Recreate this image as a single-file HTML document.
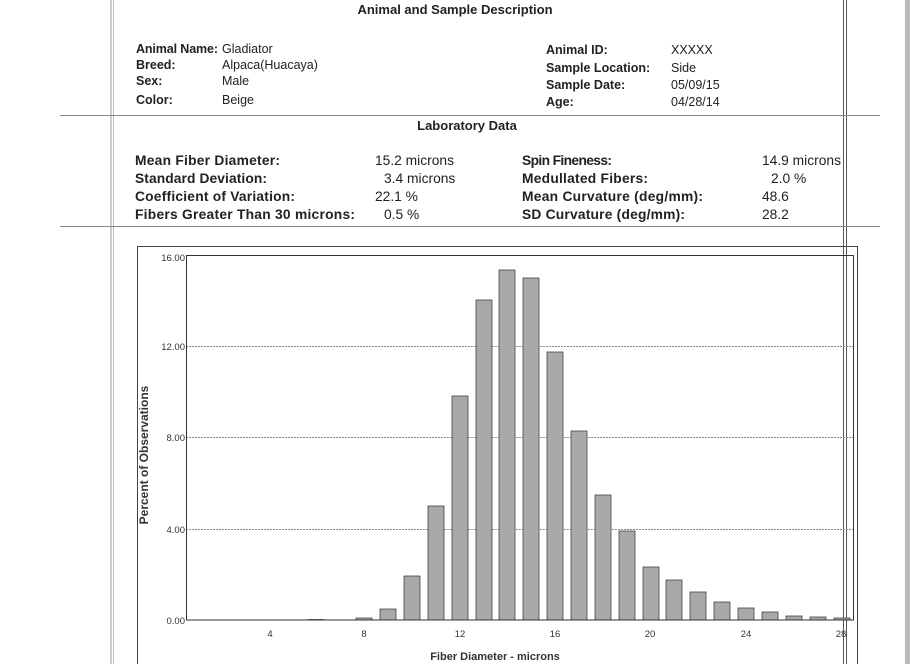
<!DOCTYPE html>
<html><head><meta charset="utf-8"><style>
html,body{margin:0;padding:0;background:#fff;}
svg{display:block;font-family:"Liberation Sans",Arial,sans-serif;}
.b{font-weight:bold;font-size:12.5px;fill:#222;}
.n{font-size:12.5px;fill:#222;}
.lb{font-weight:bold;font-size:13.8px;fill:#222;}
.ln{font-size:13.8px;fill:#222;}
.t{font-size:9.5px;fill:#333;}
</style></head><body>
<svg width="910" height="664" viewBox="0 0 910 664" xmlns="http://www.w3.org/2000/svg">
<rect width="910" height="664" fill="#fff"/>
<rect x="905" y="0" width="5" height="664" fill="#bbb"/>
<line x1="111" y1="0" x2="111" y2="664" stroke="#999" stroke-width="1"/>
<line x1="113.5" y1="0" x2="113.5" y2="664" stroke="#bbb" stroke-width="1"/>
<line x1="843.5" y1="0" x2="843.5" y2="664" stroke="#555" stroke-width="1"/>
<line x1="846.5" y1="0" x2="846.5" y2="664" stroke="#555" stroke-width="1"/>
<line x1="60" y1="115.5" x2="880" y2="115.5" stroke="#888" stroke-width="1"/>
<line x1="60" y1="226.5" x2="880" y2="226.5" stroke="#888" stroke-width="1"/>
<text x="455" y="14" text-anchor="middle" class="b" style="font-size:13px">Animal and Sample Description</text>
<text x="136" y="53" class="b" textLength="82">Animal Name:</text><text x="222" y="53" class="n">Gladiator</text>
<text x="136" y="69" class="b">Breed:</text><text x="222" y="69" class="n">Alpaca(Huacaya)</text>
<text x="136" y="85" class="b">Sex:</text><text x="222" y="85" class="n">Male</text>
<text x="136" y="104" class="b">Color:</text><text x="222" y="104" class="n">Beige</text>
<text x="546" y="54" class="b">Animal ID:</text><text x="671" y="54" class="n">XXXXX</text>
<text x="546" y="72" class="b">Sample Location:</text><text x="671" y="72" class="n">Side</text>
<text x="546" y="89" class="b">Sample Date:</text><text x="671" y="89" class="n">05/09/15</text>
<text x="546" y="106" class="b">Age:</text><text x="671" y="106" class="n">04/28/14</text>
<text x="467" y="130" text-anchor="middle" class="b" style="font-size:13px">Laboratory Data</text>
<text x="135" y="165" class="lb" textLength="145">Mean Fiber Diameter:</text><text x="375" y="165" class="ln">15.2 microns</text>
<text x="135" y="183" class="lb" textLength="132">Standard Deviation:</text><text x="384" y="183" class="ln">3.4 microns</text>
<text x="135" y="201" class="lb" textLength="160">Coefficient of Variation:</text><text x="375" y="201" class="ln">22.1 %</text>
<text x="135" y="219" class="lb" textLength="220">Fibers Greater Than 30 microns:</text><text x="384" y="219" class="ln">0.5 %</text>
<text x="522" y="165" class="lb" textLength="90">Spin Fineness:</text><text x="762" y="165" class="ln">14.9 microns</text>
<text x="522" y="183" class="lb" textLength="126">Medullated Fibers:</text><text x="771" y="183" class="ln">2.0 %</text>
<text x="522" y="201" class="lb" textLength="181">Mean Curvature (deg/mm):</text><text x="762" y="201" class="ln">48.6</text>
<text x="522" y="219" class="lb" textLength="163">SD Curvature (deg/mm):</text><text x="762" y="219" class="ln">28.2</text>
<rect x="137.5" y="246.5" width="720" height="430" fill="none" stroke="#444" stroke-width="1"/>
<g stroke="#888" stroke-width="1" stroke-dasharray="2,1">
<line x1="186" y1="346.5" x2="853" y2="346.5"/>
<line x1="186" y1="437.5" x2="853" y2="437.5"/>
<line x1="186" y1="529.5" x2="853" y2="529.5"/>
</g>
<g fill="#a9a9a9" stroke="#444" stroke-width="0.8">
<rect x="308" y="619.5" width="16" height="0.5"/>
<rect x="356" y="618" width="16" height="2"/>
<rect x="380" y="609" width="16" height="11"/>
<rect x="404" y="576" width="16" height="44"/>
<rect x="428" y="506" width="16" height="114"/>
<rect x="452" y="396" width="16" height="224"/>
<rect x="476" y="300" width="16" height="320"/>
<rect x="499" y="270" width="16" height="350"/>
<rect x="523" y="278" width="16" height="342"/>
<rect x="547" y="352" width="16" height="268"/>
<rect x="571" y="431" width="16" height="189"/>
<rect x="595" y="495" width="16" height="125"/>
<rect x="619" y="531" width="16" height="89"/>
<rect x="643" y="567" width="16" height="53"/>
<rect x="666" y="580" width="16" height="40"/>
<rect x="690" y="592" width="16" height="28"/>
<rect x="714" y="602" width="16" height="18"/>
<rect x="738" y="608" width="16" height="12"/>
<rect x="762" y="612" width="16" height="8"/>
<rect x="786" y="616" width="16" height="4"/>
<rect x="810" y="617" width="16" height="3"/>
<rect x="834" y="618" width="16" height="2"/>
</g>
<rect x="186.5" y="255.5" width="667" height="364.5" fill="none" stroke="#333" stroke-width="1"/>
<g class="t" text-anchor="end">
<text x="185" y="261">16.00</text>
<text x="185" y="350">12.00</text>
<text x="185" y="441">8.00</text>
<text x="185" y="533">4.00</text>
<text x="185" y="624">0.00</text>
</g>
<g class="t" text-anchor="middle">
<text x="270" y="637">4</text><text x="364" y="637">8</text><text x="460" y="637">12</text>
<text x="555" y="637">16</text><text x="650" y="637">20</text><text x="746" y="637">24</text><text x="841" y="637">28</text>
</g>
<text transform="translate(148,455) rotate(-90)" text-anchor="middle" style="font-size:12px;font-weight:bold;fill:#333">Percent of Observations</text>
<text x="495" y="660" text-anchor="middle" style="font-size:11px;font-weight:bold;fill:#333">Fiber Diameter - microns</text>
</svg>
</body></html>
